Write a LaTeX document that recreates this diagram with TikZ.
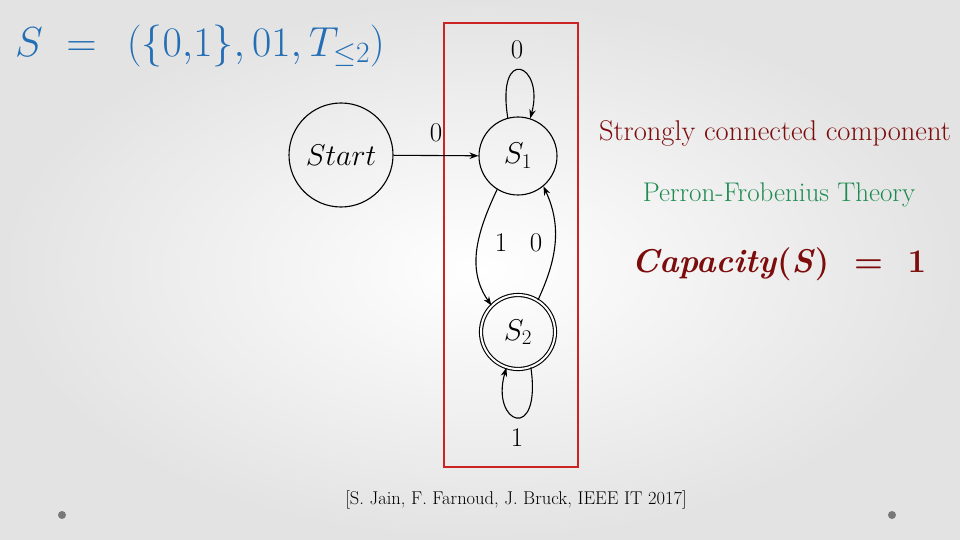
\RequirePackage{fix-cm}
\documentclass[tikz,border=0pt]{standalone}
\usepackage{amsmath,amssymb}
\usepackage{fontspec}
\usetikzlibrary{arrows.meta}
\definecolor{titleblue}{RGB}{35,110,180}
\definecolor{sccred}{RGB}{125,12,12}
\definecolor{pfgreen}{RGB}{30,140,80}
\definecolor{boxred}{RGB}{205,35,35}
\definecolor{dotgray}{RGB}{120,120,120}
\tikzset{
  state/.style={circle,draw,line width=1.1pt,inner sep=0pt,font=\fontsize{30}{32}\selectfont},
  trans/.style={line width=1.1pt,-{Stealth[length=9pt,width=6.5pt]}},
  elabel/.style={font=\fontsize{27}{29}\selectfont,inner sep=0pt},
  deco/.style={circle,fill=dotgray,minimum size=8pt,inner sep=0pt}
}
\begin{document}
\begin{tikzpicture}[x=1pt,y=-1pt]
\useasboundingbox (0,0) rectangle (960,540);
\shade[inner color=white,outer color=black!11] (0,0) rectangle (960,540);
% title
\node[anchor=west,text=titleblue,font=\fontsize{42}{46}\selectfont,inner sep=0pt] (title) at (15,46) {$S\;=\;\,(\{0{,}1\},01,T_{\le 2})$};
% red box
\node[draw=boxred,line width=2.5pt,minimum width=134pt,minimum height=444pt,inner sep=0pt] (scc) at (511,245) {};
% states
\node[state,minimum size=104pt] (start) at (341,155) {$Start$};
\node[state,minimum size=78pt] (s1) at (518,156) {$S_1$};
\node[state,minimum size=74pt,double,double distance=2pt] (s2) at (518,332) {$S_2$};
% transitions
\draw[trans] (start) -- (s1);
\node[elabel] (l0) at (436,133) {$0$};
\draw[trans] (s1.105) .. controls (496,44) and (545,64) .. (s1.72);
\node[elabel] (lloop1) at (517,50) {$0$};
\draw[trans] (s1.238) to[out=245,in=125] (s2.135);
\node[elabel] (l1) at (501,243) {$1$};
\draw[trans] (s2.58) to[out=65,in=295] (s1.310);
\node[elabel] (l0b) at (536,243) {$0$};
\draw[trans] (s2.290) .. controls (542,444) and (490,424) .. (s2.252);
\node[elabel] (lloop2) at (517,438) {$1$};
% right texts
\node[text=sccred,font=\fontsize{28.5}{30}\selectfont] (scct) at (775,133) {Strongly connected component};
\node[text=pfgreen,font=\fontsize{27}{29}\selectfont] (pf) at (779,195) {Perron-Frobenius Theory};
\node[text=sccred,font=\fontsize{33}{36}\selectfont\bfseries] (capnode) at (779,264) {\textit{Capacity}(\textit{S})\ \ =\ \ 1};
% citation
\node[font=\fontsize{18.5}{22}\selectfont] (cite) at (516,500) {[S. Jain, F. Farnoud, J. Bruck, IEEE IT 2017]};
% decorative dots
\node[deco] (d1) at (62,515) {};
\node[deco] (d2) at (892,515) {};
\end{tikzpicture}
\end{document}
